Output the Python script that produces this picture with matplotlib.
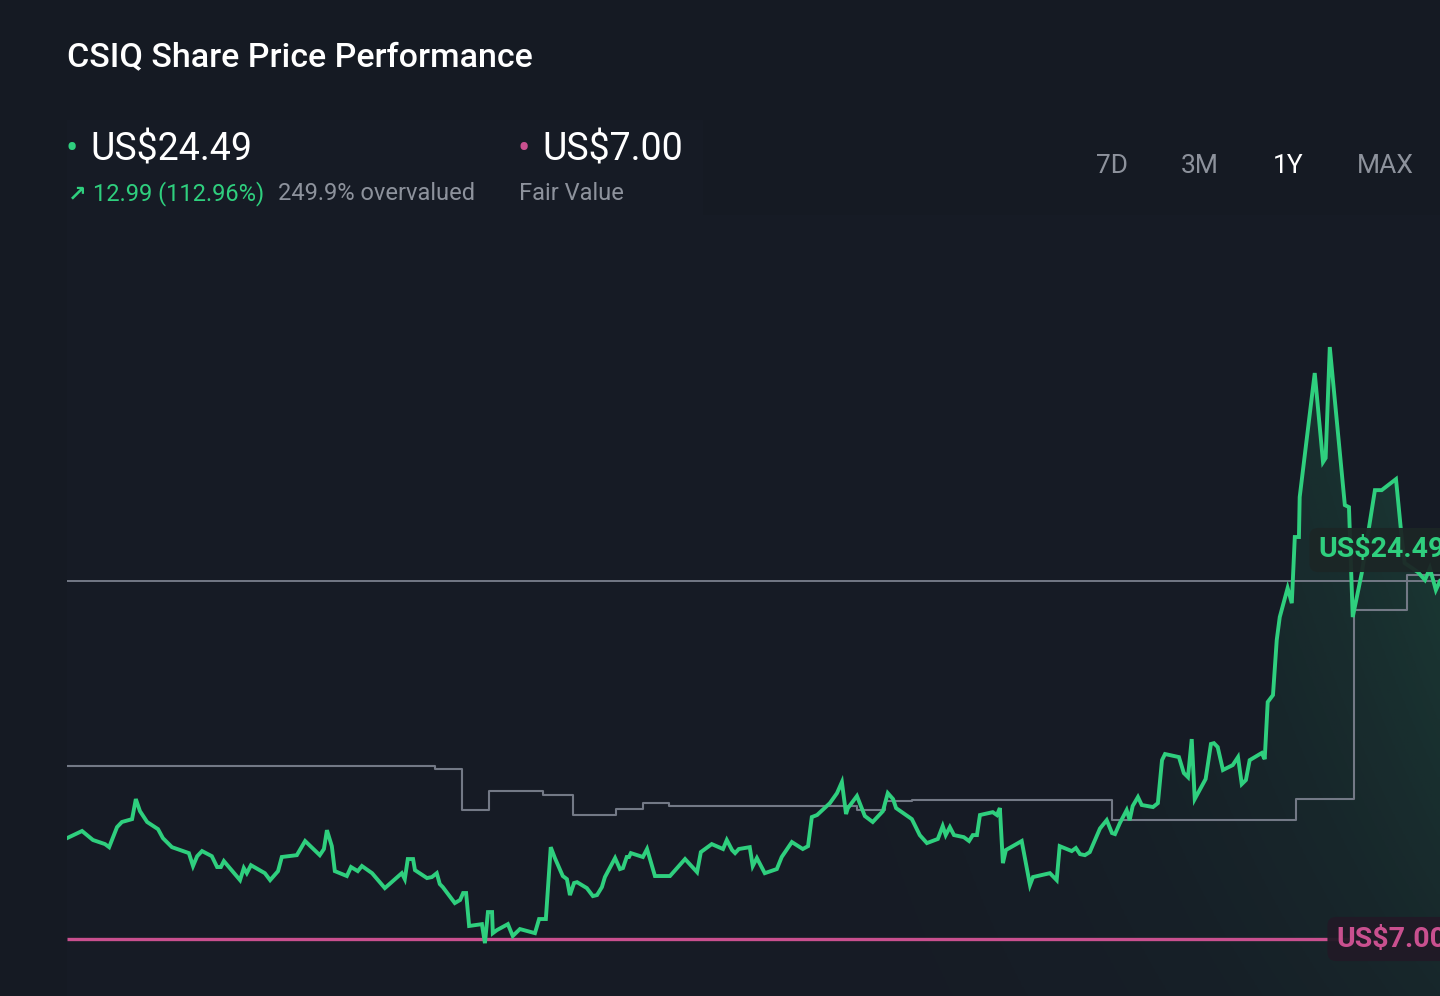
import numpy as np
import matplotlib
matplotlib.use("Agg")
import matplotlib.pyplot as plt
from matplotlib.patches import Polygon, Rectangle

# --- Data ---
# day offset within the 1Y window, share price in US$
price_days = [
    0, 4.0, 6.9, 10.1, 11.2, 13.3, 14.6, 17.3, 18.3, 19.4, 21.3, 24.2, 25.5, 27.9, 32.4, 33.5,
    34.6, 35.9, 38.5, 39.9, 40.9, 41.7, 46.0, 47.0, 47.8, 48.9, 52.6, 54.0, 56.1, 57.1, 61.1,
    63.3, 67.2, 68.3, 69.1, 70.4, 71.2, 74.4, 75.5, 77.3, 78.4, 81.1, 84.5, 89.0, 89.8, 90.6,
    92.0, 92.5, 95.7, 97.0, 98.3, 99.1, 99.9, 103.1, 104.5, 105.3, 106.1, 106.9, 110.3, 111.1,
    111.9, 113.0, 113.2, 114.3, 117.2, 118.5, 120.4, 124.4, 125.5, 127.3, 128.6, 129.7, 131.8,
    132.9, 133.7, 134.8, 135.6, 138.2, 139.8, 140.9, 142.2, 143.0, 145.7, 147.0, 147.8, 148.8,
    149.4, 149.9, 153.1, 154.2, 156.3, 160.3, 164.3, 167.5, 168.5, 171.4, 174.4, 175.4, 176.8,
    177.6, 178.6, 181.5, 182.3, 183.4, 185.5, 188.7, 190.0, 192.7, 195.6, 197.0, 198.0, 199.4,
    202.8, 204.7, 206.0, 207.1, 207.6, 210.0, 212.1, 214.2, 216.9, 218.2, 219.6, 220.4, 224.6,
    226.7, 228.6, 231.5, 232.8, 233.6, 234.7, 235.8, 238.4, 239.8, 240.8, 241.9, 242.7, 246.1,
    247.2, 248.0, 248.8, 249.6, 253.8, 256.0, 256.8, 261.3, 263.1, 263.9, 267.1, 268.2, 269.3,
    270.6, 271.9, 274.6, 276.4, 277.8, 278.6, 279.9, 281.7, 282.5, 283.3, 284.7, 285.7, 288.7,
    290.0, 291.1, 291.9, 295.6, 296.9, 298.0, 299.0, 299.8, 302.7, 304.1, 304.9, 305.9, 307.3,
    309.9, 311.3, 312.3, 313.4, 314.4, 317.6, 318.4, 319.2, 320.6, 321.6, 322.4, 324.5, 325.6,
    326.4, 327.5, 327.7, 331.7, 333.9, 334.6, 335.7, 339.7, 340.8, 341.8, 344.2, 347.7, 349.5,
    353.3, 354.8, 355.6, 359.1, 361.0, 362.3, 363.9, 365.0,
]
price_values = [
    11.93, 12.28, 11.84, 11.64, 11.49, 12.47, 12.72, 12.86, 13.84, 13.25, 12.72, 12.37, 11.93,
    11.49, 11.20, 10.57, 11.05, 11.30, 11.05, 10.52, 10.52, 10.81, 9.88, 10.47, 10.22, 10.61,
    10.22, 9.88, 10.32, 11.01, 11.10, 11.79, 11.10, 11.40, 12.32, 11.54, 10.32, 10.08, 10.52,
    10.32, 10.57, 10.22, 9.49, 10.22, 9.93, 10.91, 10.91, 10.37, 9.98, 10.03, 10.22, 9.69,
    9.54, 8.76, 8.91, 9.25, 9.25, 7.64, 7.73, 6.80, 8.32, 8.32, 7.29, 7.44, 7.73, 7.15, 7.49,
    7.29, 7.98, 7.98, 11.49, 10.96, 10.08, 9.93, 9.15, 9.74, 9.78, 9.49, 9.10, 9.15, 9.54,
    10.03, 10.96, 10.42, 10.47, 11.01, 11.01, 11.20, 11.01, 11.40, 10.08, 10.08, 10.91, 10.27,
    11.25, 11.64, 11.40, 11.84, 11.35, 11.20, 11.40, 11.49, 10.57, 10.96, 10.22, 10.42, 11.01,
    11.74, 11.40, 11.54, 12.96, 13.06, 13.64, 14.13, 14.67, 13.11, 13.40, 13.99, 13.01, 12.72,
    13.25, 14.13, 13.84, 13.40, 12.86, 12.08, 11.69, 11.89, 12.52, 12.08, 12.47, 12.08, 11.98,
    11.79, 12.08, 12.08, 13.06, 13.20, 13.06, 13.40, 10.71, 11.35, 11.79, 9.64, 10.03, 10.22,
    9.88, 11.54, 11.30, 11.45, 11.15, 11.10, 11.25, 12.40, 12.81, 12.18, 12.13, 12.67, 13.30,
    12.81, 13.50, 13.94, 13.55, 13.45, 13.64, 15.74, 16.04, 15.89, 15.11, 14.91, 16.77, 13.84,
    14.82, 16.53, 16.57, 16.38, 15.26, 15.50, 15.89, 14.57, 14.77, 15.74, 16.09, 15.79, 18.58,
    18.92, 21.61, 22.73, 24.15, 23.41, 26.64, 26.64, 28.59, 34.65, 30.30, 30.50, 35.92, 28.20,
    28.10, 22.73, 24.88, 28.93, 28.93, 29.47, 26.64, 25.37, 24.93, 24.54, 25.12, 24.05, 24.49,
]

# grey step series (consensus history), value holds until next change day
target_days = [0, 97.8, 105.0, 112.2, 126.5, 134.5, 145.9, 153.1, 160.0, 210.0, 217.4, 224.6,
               277.8, 326.7, 342.1, 356.2, 365.0]
target_values = [15.45, 15.30, 13.30, 14.23, 14.03, 13.06, 13.35, 13.64, 13.50, 13.30, 13.74,
                 13.79, 12.81, 13.84, 23.07, 24.78, 24.78]

current_price = 24.49
fair_value = 7.00
change_text = "12.99 (112.96%)"
valuation_text = "249.9% overvalued"
periods = ["7D", "3M", "1Y", "MAX"]
active_period = "1Y"

# --- Style ---
BG = "#151a23"
PANEL = "#161b25"
GREEN = "#2fcf7e"
PINK = "#c9508f"
GREY = "#737986"
MUTED = "#8d929c"
W, H = 1440, 996

plt.rcParams["font.family"] = ["Roboto", "DejaVu Sans"]

fig = plt.figure(figsize=(W / 100, H / 100), dpi=100, facecolor=BG)


def px(x, y):
    return x / W, 1 - y / H


# faint panel behind the header values
fig.patches.append(Rectangle(px(67, 215), (703 - 67) / W, (215 - 120) / H,
                             transform=fig.transFigure, facecolor=PANEL, edgecolor="none"))

ax = fig.add_axes([67 / W, 0, 1 - 67 / W, (H - 215) / H])
ax.set_facecolor(PANEL)
for s in ax.spines.values():
    s.set_visible(False)
ax.set_xticks([])
ax.set_yticks([])

# gradient fill under the price line (stronger towards the right and top)
ymin, ymax = 4.22, 42.37
ytop = max(price_values)
gx = np.linspace(0, 1, 400) ** 5
gy = np.linspace(1.0, 0.35, 300)
grad = np.zeros((300, 400, 4))
grad[..., 0] = 0x2f / 255
grad[..., 1] = 0xcf / 255
grad[..., 2] = 0x7e / 255
grad[..., 3] = 0.2 * gy[:, None] * gx[None, :]
img = ax.imshow(grad, extent=[0, 365, ymin, ytop], aspect="auto", origin="upper", zorder=1)
poly_xy = np.column_stack([[price_days[0]] + price_days + [price_days[-1]],
                           [ymin] + price_values + [ymin]])
clip = Polygon(poly_xy, closed=True, facecolor="none", edgecolor="none")
ax.add_patch(clip)
img.set_clip_path(clip)
ax.set_xlim(0, 365)
ax.set_ylim(ymin, ymax)

# reference lines
ax.axhline(current_price, color=GREY, lw=1.4, zorder=2)
ax.plot([0, 341], [fair_value, fair_value], color=PINK, lw=2.4, zorder=3, solid_capstyle="butt")

# step series and price line
ax.plot(target_days, target_values, drawstyle="steps-post", color=GREY, lw=1.5, zorder=3)
ax.plot(price_days, price_values, color=GREEN, lw=2.8, zorder=4, solid_joinstyle="miter")

# right-hand value tags (run off the right edge, as in the app screenshot)
fig.text(*px(1318, 550), f"US${current_price:.2f}", color=GREEN, fontsize=20.5, fontweight="bold",
         va="center", ha="left", zorder=6,
         bbox=dict(boxstyle="round,pad=0.3", facecolor="#1c2626", edgecolor="none", alpha=0.95))
fig.text(*px(1336, 939), f"US${fair_value:.2f}", color=PINK, fontsize=20.5, fontweight="bold",
         va="center", ha="left", zorder=6,
         bbox=dict(boxstyle="round,pad=0.3", facecolor="#211a26", edgecolor="none", alpha=0.95))

# --- Header ---
fig.text(*px(67, 57), "CSIQ Share Price Performance", color="white", fontsize=24.5,
         fontweight="medium", va="center", ha="left")

fig.text(*px(72, 150), "\u2022", color=GREEN, fontsize=26, va="center", ha="center")
fig.text(*px(90, 150), f"US${current_price:.2f}", color="white", fontsize=27, va="center", ha="left")
fig.text(*px(68, 194), "\u2197", color=GREEN, fontsize=16, fontweight="bold", va="center", ha="left",
         family=["DejaVu Sans"])
fig.text(*px(93, 194), change_text, color=GREEN, fontsize=17, va="center", ha="left")
fig.text(*px(278, 194), valuation_text, color=MUTED, fontsize=17, va="center", ha="left")

fig.text(*px(524, 150), "\u2022", color=PINK, fontsize=26, va="center", ha="center")
fig.text(*px(542, 150), f"US${fair_value:.2f}", color="white", fontsize=27, va="center", ha="left")
fig.text(*px(519, 194), "Fair Value", color=MUTED, fontsize=17, va="center", ha="left")

period_x = [1112, 1200, 1288, 1385]
for label, xc in zip(periods, period_x):
    fig.text(*px(xc, 166), label, color="white" if label == active_period else MUTED,
             fontsize=19, va="center", ha="center")

fig.savefig("out.png", dpi=100, facecolor=BG)
